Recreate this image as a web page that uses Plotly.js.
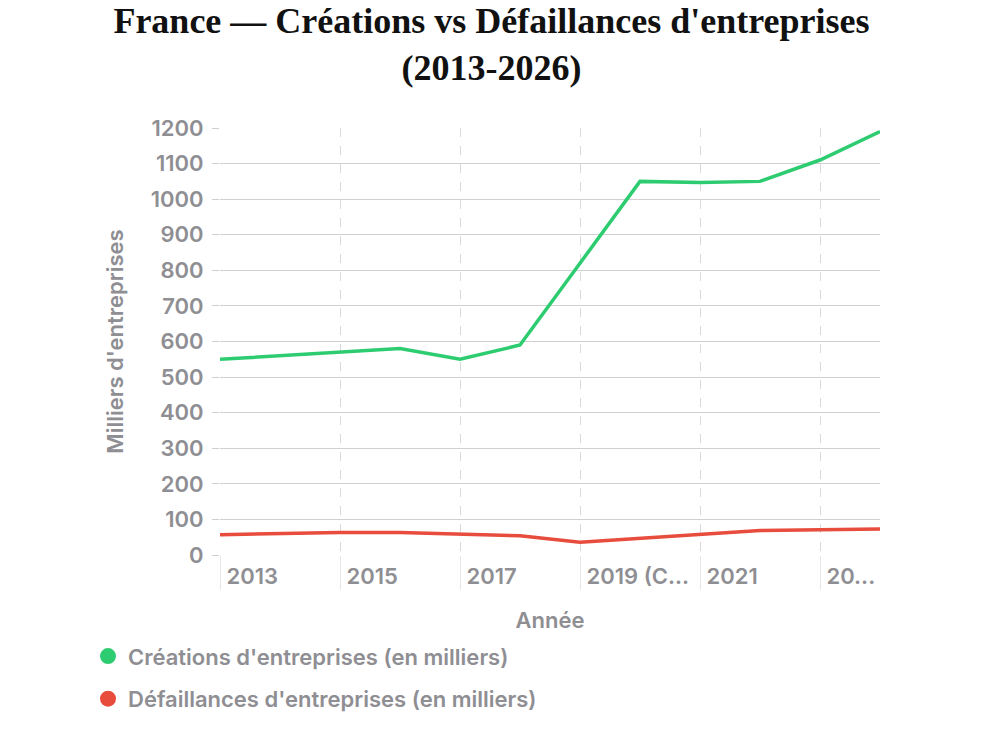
<!DOCTYPE html>
<html>
<head>
<meta charset="utf-8">
<script src="https://cdn.plot.ly/plotly-3.0.1.min.js"></script>
<style>html,body{margin:0;padding:0;background:#fff;}#chart{width:983px;height:737px;}</style>
</head>
<body>
<div id="chart"></div>
<script>
const years = ["2013","2014","2015","2016","2017","2018","2019 (Covid)","2020","2021","2022","2025 (estimation)","2026 (projection)"];
const creations = [550,560,570,580,550,590,820,1050,1047,1050,1110,1190];
const defaillances = [57,61,63,63,58,54,36,47,58,69,71,73];
const tickYears = ["2013","2015","2017","2019 (Covid)","2021","2025 (estimation)"];
const tickLabels = ["2013","2015","2017","2019 (C...","2021","20..."];
const seriesNames = ["Créations d'entreprises (en milliers)","Défaillances d'entreprises (en milliers)"];
const colors = ["#2ecc71","#e74c3c"];

const gray = "#8e8e93";
const baseFont = {family:"Inter, 'Noto Sans', sans-serif", size:22, color:gray, weight:600};
const titleFont = {family:"'Liberation Serif', 'DejaVu Serif', serif", size:36, color:"#111", weight:700};

const traces = [];
[creations, defaillances].forEach((vals,i)=>{
  traces.push({x:years, y:vals, type:"scatter", mode:"lines", line:{color:colors[i], width:3.5},
    showlegend:false, legendgroup:"g"+i, hoverinfo:"x+y"});
  traces.push({x:years, y:vals, type:"scatter", mode:"markers", marker:{color:colors[i], size:16},
    selectedpoints:[], unselected:{marker:{opacity:0}},
    name:seriesNames[i], legendgroup:"g"+i, hoverinfo:"skip"});
});

const layout = {
  width:983, height:737,
  margin:{l:220, r:103, t:128, b:182},
  paper_bgcolor:"#fff", plot_bgcolor:"#fff",
  font:baseFont,
  title:{text:"France — Créations vs Défaillances d'entreprises<br>(2013-2026)",
    font:titleFont,
    x:0.5, xref:"container", y:0.955, yref:"container", yanchor:"top"},
  xaxis:{type:"category", range:[0,11], tickvals:tickYears, ticktext:tickLabels,
    ticklabelposition:"outside right", ticklabelshift:6, ticklabelstandoff:2,
    showgrid:true, gridcolor:"#d9d9d9", griddash:"dash", gridwidth:1,
    ticks:"outside", ticklen:34, tickcolor:"#e6e6e6", tickwidth:1,
    showline:false, zeroline:false, tickfont:baseFont,
    title:{text:"Année", font:baseFont, standoff:24}},
  yaxis:{range:[0,1200], dtick:100, tick0:0, showgrid:true, gridcolor:"#d0d0d0", gridwidth:1,
    ticks:"outside", ticklen:7, tickcolor:"#cfcfcf", showline:false, zeroline:false,
    ticklabelstandoff:4, tickfont:baseFont,
    title:{text:"Milliers d'entreprises", font:baseFont, standoff:21}},
  legend:{orientation:"v", x:-0.2, xanchor:"left", y:-0.188, yanchor:"top",
    itemsizing:"trace", tracegroupgap:11, font:baseFont, bgcolor:"rgba(0,0,0,0)"},
  showlegend:true
};

Plotly.newPlot("chart", traces, layout, {displayModeBar:false, staticPlot:true});
</script>
</body>
</html>
